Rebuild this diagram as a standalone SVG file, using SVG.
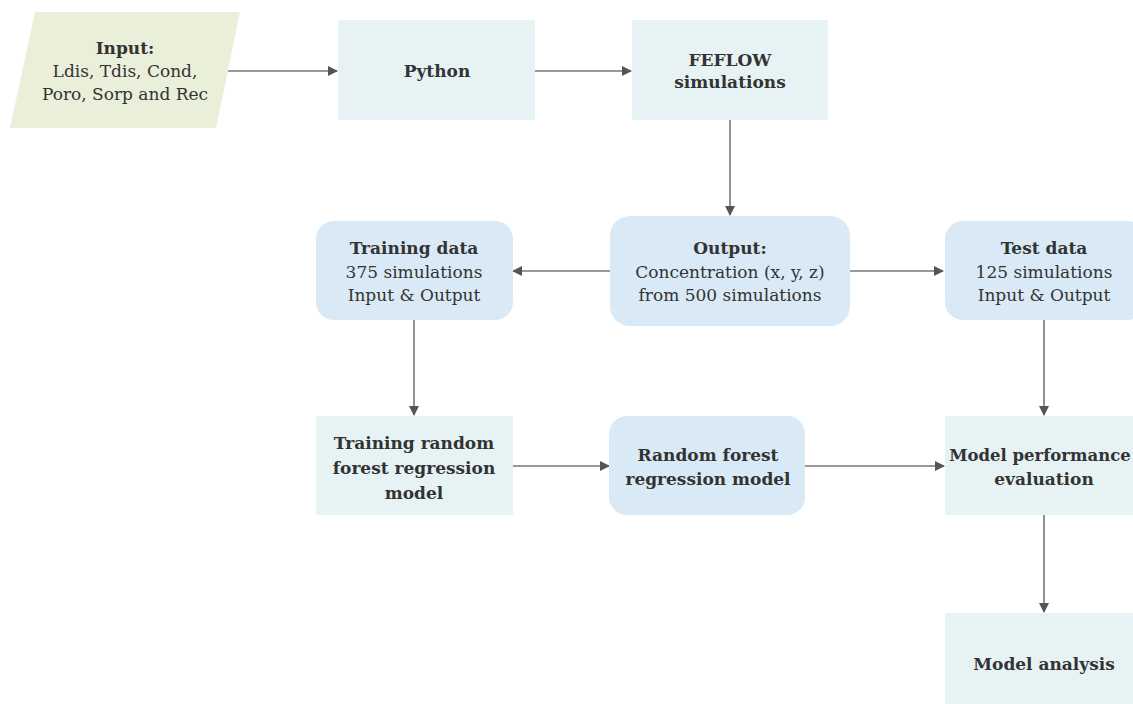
<svg xmlns="http://www.w3.org/2000/svg" width="1133" height="704" viewBox="0 0 1133 704">
<defs>
<marker id="arr" markerWidth="10" markerHeight="10" refX="9" refY="5" orient="auto" markerUnits="userSpaceOnUse">
<path d="M0,0 L10,5 L0,10 Z" fill="#555"/>
</marker>
<style>
text{font-family:"DejaVu Serif",serif;font-size:17px;fill:#333;text-anchor:middle}
.b{font-weight:bold}
.sq{fill:#e6f2f4}
.rd{fill:#d9eaf6}
.c{stroke:#777;stroke-width:1.6;fill:none;marker-end:url(#arr)}
</style>
</defs>
<rect width="1133" height="704" fill="#fff"/>
<g id="connectors">
<line class="c" x1="228" y1="71" x2="337" y2="71"/>
<line class="c" x1="535" y1="71" x2="631" y2="71"/>
<line class="c" x1="730" y1="120" x2="730" y2="215"/>
<line class="c" x1="610" y1="271" x2="513" y2="271"/>
<line class="c" x1="850" y1="271" x2="943" y2="271"/>
<line class="c" x1="414" y1="320" x2="414" y2="415"/>
<line class="c" x1="1044" y1="320" x2="1044" y2="415"/>
<line class="c" x1="513" y1="466" x2="609" y2="466"/>
<line class="c" x1="805" y1="466" x2="944" y2="466"/>
<line class="c" x1="1044" y1="515" x2="1044" y2="612"/>
</g>
<g id="input">
<polygon points="35,12 240,12 216,128 10,128" fill="#e9efd9"/>
<text class="b" x="125" y="54">Input:</text>
<text x="125" y="77">Ldis, Tdis, Cond,</text>
<text x="125" y="100">Poro, Sorp and Rec</text>
</g>
<g id="python">
<rect class="sq" x="338" y="20" width="197" height="100"/>
<text class="b" x="437" y="77">Python</text>
</g>
<g id="feflow">
<rect class="sq" x="632" y="20" width="196" height="100"/>
<text class="b" x="730" y="66">FEFLOW</text>
<text class="b" x="730" y="88">simulations</text>
</g>
<g id="output">
<rect class="rd" x="610" y="216" width="240" height="110" rx="20"/>
<text class="b" x="730" y="254">Output:</text>
<text x="730" y="278">Concentration (x, y, z)</text>
<text x="730" y="301">from 500 simulations</text>
</g>
<g id="training-data">
<rect class="rd" x="316" y="221" width="197" height="99" rx="18"/>
<text class="b" x="414" y="254">Training data</text>
<text x="414" y="278">375 simulations</text>
<text x="414" y="301">Input &amp; Output</text>
</g>
<g id="test-data">
<rect class="rd" x="945" y="221" width="200" height="99" rx="18"/>
<text class="b" x="1044" y="254">Test data</text>
<text x="1044" y="278">125 simulations</text>
<text x="1044" y="301">Input &amp; Output</text>
</g>
<g id="training-rf">
<rect class="sq" x="316" y="416" width="197" height="99"/>
<text class="b" x="414" y="449">Training random</text>
<text class="b" x="414" y="474">forest regression</text>
<text class="b" x="414" y="499">model</text>
</g>
<g id="rf-model">
<rect class="rd" x="609" y="416" width="196" height="99" rx="18"/>
<text class="b" x="708" y="461">Random forest</text>
<text class="b" x="708" y="485">regression model</text>
</g>
<g id="model-performance">
<rect class="sq" x="945" y="416" width="200" height="99"/>
<text class="b" x="1040" y="461" style="font-size:16.5px">Model performance</text>
<text class="b" x="1044" y="485">evaluation</text>
</g>
<g id="model-analysis">
<rect class="sq" x="945" y="613" width="200" height="99"/>
<text class="b" x="1044" y="670">Model analysis</text>
</g>
</svg>
